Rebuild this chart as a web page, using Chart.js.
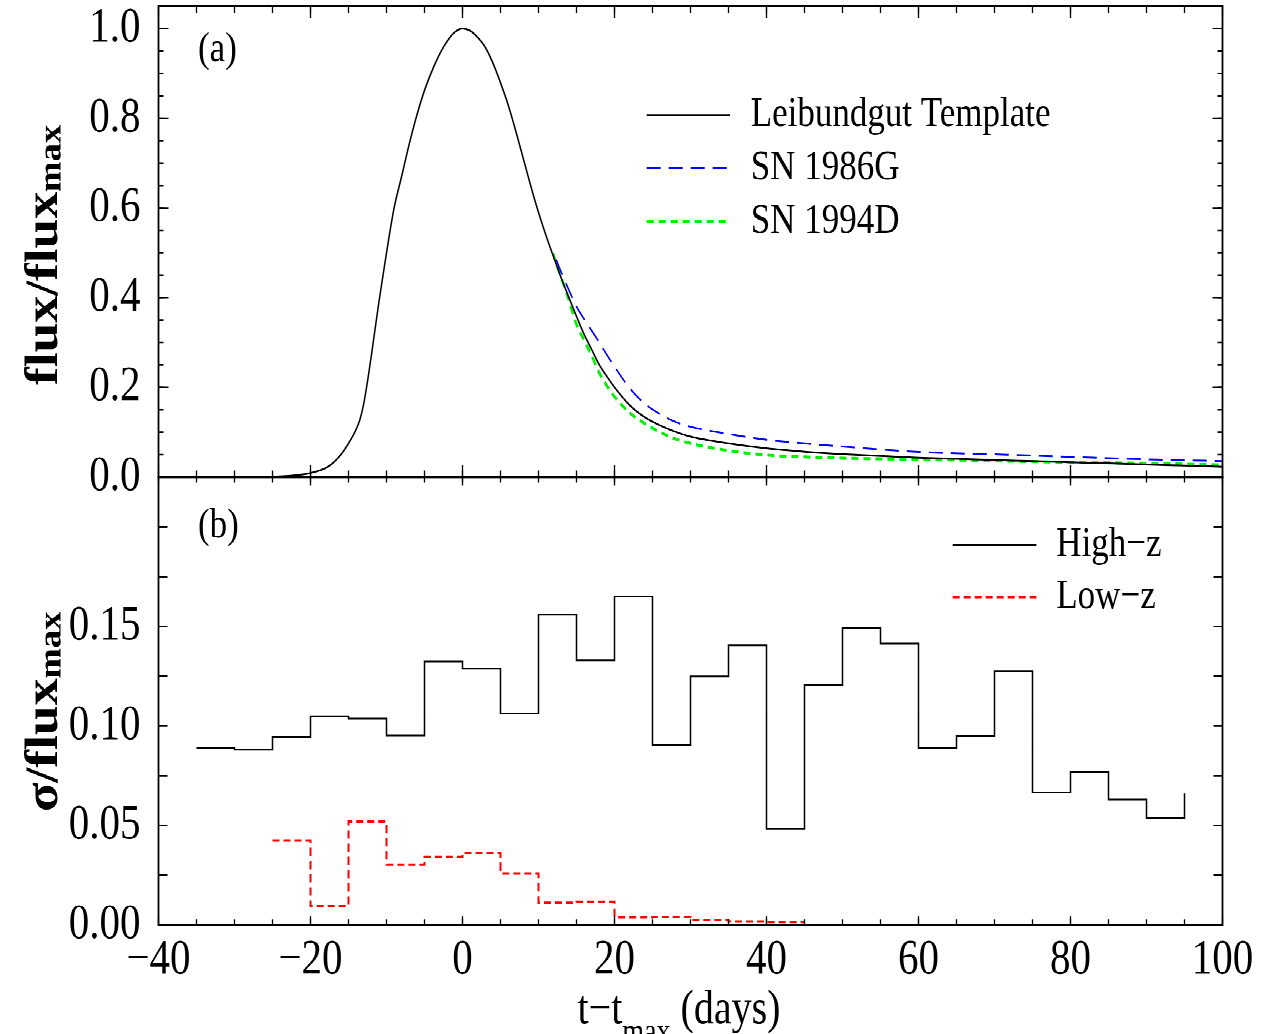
<!DOCTYPE html>
<html>
<head>
<meta charset="utf-8">
<script src="https://cdn.jsdelivr.net/npm/chart.js@4.4.1/dist/chart.umd.min.js"></script>
<style>
html,body{margin:0;padding:0;background:#fff;overflow:hidden;width:1265px;height:1034px}
#wrap{position:absolute;left:0;top:0;width:1265px;height:862px;transform:scaleY(1.19954);transform-origin:0 0}
#wrap canvas{position:absolute;left:0;top:0}
</style>
</head>
<body>
<div id="wrap">
<canvas id="top" width="1265" height="862"></canvas>
<canvas id="bottom" width="1265" height="862"></canvas>
</div>
<script>
// ---------------- data ----------------
const templateDay  = [-30,-25,-22,-20,-18,-17,-16,-15,-14,-13.5,-13,-12.5,-12,-11,-10,-9,-8,-7,-6,-5,-4,-3,-2,-1,0,1,2,3,4,5,6,7,8,9,10,11,12,13,14,15,16,17,18,19,20,22,24,26,28,30,35,40,45,50,55,60,65,70,75,80,85,90,95,100];
const templateFlux = [0,0.001,0.004,0.009,0.02,0.032,0.05,0.075,0.106,0.128,0.163,0.213,0.27,0.39,0.50,0.60,0.671,0.743,0.807,0.862,0.906,0.943,0.972,0.992,1.0,0.995,0.98,0.958,0.923,0.879,0.83,0.772,0.71,0.648,0.59,0.538,0.49,0.443,0.40,0.358,0.318,0.284,0.25,0.224,0.2,0.16,0.133,0.115,0.101,0.09,0.075,0.064,0.0565,0.051,0.047,0.043,0.0405,0.038,0.0355,0.033,0.0305,0.028,0.0255,0.023];

const sn1986gDay  = [12.3,13.7,15,16,17,18,19,20,22,24,26,28,30,35,40,45,50,60,70,80,90,100];
const sn1986gFlux = [0.485,0.428,0.38,0.352,0.326,0.30,0.272,0.246,0.198,0.163,0.14,0.123,0.112,0.096,0.083,0.075,0.068,0.056,0.0507,0.045,0.0395,0.0357];

const sn1994dDay  = [11.9,12.25,13.7,15,16,17,18,19,20,22,24,26,28,30,35,40,45,50,60,70,80,90,100];
const sn1994dFlux = [0.50,0.48,0.41,0.34,0.305,0.27,0.232,0.203,0.179,0.143,0.119,0.1,0.085,0.075,0.059,0.049,0.045,0.042,0.0395,0.036,0.033,0.0306,0.027];

const highZDay   = [-35,-30,-25,-20,-15,-10,-5,0,5,10,15,20,25,30,35,40,45,50,55,60,65,70,75,80,85,90,95];
const highZSigma = [0.0889,0.0881,0.0945,0.1048,0.1037,0.0953,0.1323,0.1288,0.1063,0.1559,0.133,0.165,0.0903,0.1249,0.1405,0.0482,0.1204,0.1492,0.1414,0.0888,0.0948,0.1276,0.0665,0.0767,0.063,0.0536,0.066];

const lowZDay   = [-25,-20,-15,-10,-5,0,5,10,15,20,25,30,35,40,45];
const lowZSigma = [0.0424,0.0094,0.0519,0.0303,0.0342,0.0362,0.0258,0.0111,0.0116,0.0038,0.0040,0.0025,0.0017,0.0015,0.0015];

const seriesLabelsTop    = ['Leibundgut Template','SN 1986G','SN 1994D'];
const seriesLabelsBottom = ['High\u2212z','Low\u2212z'];
const xTickStep = 20, yTopTickStep = 0.2, yBottomTickStep = 0.05;

// ---------------- helpers ----------------
const FONT = '"Liberation Serif", "Times New Roman", serif';
function pts(xs, ys){ return xs.map((x,i)=>({x:x, y:ys[i]})); }
function fmtDay(v){ return String(v).replace('-', '\u2212'); }

function drawParts(ctx, parts, x, y, align){
  let total = 0;
  parts.forEach(p=>{ ctx.font=(p.bold?'bold ':'')+p.size+'px '+FONT; p.w=ctx.measureText(p.t).width; total+=p.w; });
  let cx = align==='center' ? x-total/2 : x;
  ctx.textAlign='left'; ctx.textBaseline='alphabetic'; ctx.fillStyle='#000';
  parts.forEach(p=>{ ctx.font=(p.bold?'bold ':'')+p.size+'px '+FONT; ctx.fillText(p.t, cx, y+(p.dy||0)); cx+=p.w; });
}

const decorPlugin = {
  id:'decor',
  afterDraw(chart, args, o){
    const ctx = chart.ctx, a = chart.chartArea;
    const xs = chart.scales.x, ys = chart.scales.y;
    ctx.save();
    ctx.strokeStyle='#000';
    ctx.lineWidth=1.3;
    // inner ticks on x (top and bottom edges)
    [[o.xMinor,o.xMinorLen],[o.xMajor,o.xMajorLen]].forEach(([step,len])=>{
      for(let i=0;;i++){
        const v = xs.min + i*step; if(v > xs.max+1e-9) break;
        const px = xs.getPixelForValue(v);
        ctx.beginPath();
        ctx.moveTo(px,a.bottom); ctx.lineTo(px,a.bottom-len);
        ctx.moveTo(px,a.top); ctx.lineTo(px,a.top+len);
        ctx.stroke();
      }
    });
    // inner ticks on y (left and right edges)
    [[o.yMinor,o.yMinorLen],[o.yMajor,o.yMajorLen]].forEach(([step,len])=>{
      for(let i=0;;i++){
        const v = ys.min + i*step; if(v > ys.max+1e-9) break;
        const py = ys.getPixelForValue(v);
        ctx.beginPath();
        ctx.moveTo(a.left,py); ctx.lineTo(a.left+len,py);
        ctx.moveTo(a.right,py); ctx.lineTo(a.right-len,py);
        ctx.stroke();
      }
    });
    // frame
    ctx.lineWidth=1.8;
    ctx.strokeRect(a.left,a.top,a.right-a.left,a.bottom-a.top);

    // legend
    const L = o.legend;
    chart.data.datasets.forEach((ds,i)=>{
      const y = L.rows[i];
      ctx.save();
      ctx.strokeStyle = ds.borderColor; ctx.lineWidth = ds.borderWidth;
      ctx.setLineDash(ds.borderDash||[]);
      ctx.beginPath(); ctx.moveTo(L.x1,y); ctx.lineTo(L.x2,y); ctx.stroke();
      ctx.restore();
      ctx.fillStyle='#000'; ctx.font=L.size+'px '+FONT; ctx.textAlign='left'; ctx.textBaseline='middle';
      ctx.fillText(ds.label, L.tx, y);
    });
    // panel tag
    ctx.fillStyle='#000'; ctx.font=o.tag.size+'px '+FONT; ctx.textAlign='left'; ctx.textBaseline='middle';
    ctx.fillText(o.tag.text, o.tag.x, o.tag.y);

    // y title (rotated)
    ctx.save();
    ctx.translate(o.yTitle.x, o.yTitle.y);
    ctx.rotate(-Math.PI/2);
    ctx.scale(o.yTitle.sx, 1);
    drawParts(ctx, o.yTitle.parts, 0, 0, 'center');
    ctx.restore();

    // x title
    if(o.xTitle){ drawParts(ctx, o.xTitle.parts, o.xTitle.x, o.xTitle.y, 'center'); }
    ctx.restore();
  }
};

function fixBox(w,h){
  return function(s){
    if(w!==null) s.width=w;
    if(h!==null) s.height=h;
    s.paddingLeft=0; s.paddingRight=0; s.paddingTop=0; s.paddingBottom=0;
  };
}

function xScaleCfg(display, height){
  return {
    type:'linear', min:-40, max:100, display:display,
    grid:{display:false, drawTicks:false}, border:{display:false},
    ticks:{stepSize:xTickStep, autoSkip:false, maxRotation:0, minRotation:0, padding:5, color:'#000',
           font:{family:FONT, size:41}, callback:(v)=>fmtDay(v)},
    afterFit: fixBox(null, height)
  };
}

const common = {
  responsive:false, animation:false, devicePixelRatio:2,
  events:[],
  elements:{point:{radius:0}, line:{fill:false}}
};

// ---------------- top panel ----------------
new Chart(document.getElementById('top'), {
  type:'line',
  data:{datasets:[
    {label:seriesLabelsTop[0], data:pts(templateDay,templateFlux), borderColor:'#000000', borderWidth:1.5, pointRadius:0, cubicInterpolationMode:'monotone'},
    {label:seriesLabelsTop[1], data:pts(sn1986gDay,sn1986gFlux), borderColor:'#0000ff', borderWidth:1.5, borderDash:[14,8], pointRadius:0, cubicInterpolationMode:'monotone'},
    {label:seriesLabelsTop[2], data:pts(sn1994dDay,sn1994dFlux), borderColor:'#00f000', borderWidth:2.5, borderDash:[7,5], pointRadius:0, cubicInterpolationMode:'monotone'}
  ]},
  options:Object.assign({}, common, {
    layout:{padding:{left:0, right:42.5, top:5, bottom:464.3}},
    scales:{
      x: xScaleCfg(false, 0),
      y:{type:'linear', min:0, max:1.05,
         grid:{display:false, drawTicks:false}, border:{display:false},
         ticks:{stepSize:yTopTickStep, includeBounds:false, autoSkip:false, padding:18, color:'#000',
                font:{family:FONT, size:41}, callback:(v)=>v.toFixed(1)},
         afterFit: fixBox(158.5, null)}
    },
    plugins:{
      legend:{display:false}, tooltip:{enabled:false},
      decor:{
        xMajor:20, xMinor:5, xMajorLen:10, xMinorLen:5.5,
        yMajor:0.2, yMinor:0.05, yMajorLen:10, yMinorLen:5,
        legend:{x1:646.7, x2:730, tx:750.7, rows:[95.9,140.3,184.8], size:35},
        tag:{text:'(a)', x:198, y:41.7, size:35},
        yTitle:{x:57, y:212.6, sx:0.95, parts:[{t:'flux/flux', size:47, bold:true},{t:'max', size:32, bold:true, dy:3.5}]}
      }
    }
  }),
  plugins:[decorPlugin]
});

// ---------------- bottom panel ----------------
new Chart(document.getElementById('bottom'), {
  type:'line',
  data:{datasets:[
    {label:seriesLabelsBottom[0], data:pts(highZDay,highZSigma), stepped:'before', borderColor:'#000000', borderWidth:1.5, pointRadius:0},
    {label:seriesLabelsBottom[1], data:pts(lowZDay,lowZSigma), stepped:'before', borderColor:'#ff0000', borderWidth:2, borderDash:[7,4], pointRadius:0}
  ]},
  options:Object.assign({}, common, {
    layout:{padding:{left:0, right:42.5, top:397.7, bottom:0}},
    scales:{
      x: xScaleCfg(true, 90.9),
      y:{type:'linear', min:0, max:0.225,
         grid:{display:false, drawTicks:false}, border:{display:false},
         ticks:{stepSize:yBottomTickStep, includeBounds:false, autoSkip:false, padding:18, color:'#000',
                font:{family:FONT, size:41}, callback:(v)=> Math.abs(v-0.2)<1e-9 ? '' : v.toFixed(2)},
         afterFit: fixBox(158.5, null)}
    },
    plugins:{
      legend:{display:false}, tooltip:{enabled:false},
      decor:{
        xMajor:20, xMinor:5, xMajorLen:7, xMinorLen:4.5,
        yMajor:0.025, yMinor:0.025, yMajorLen:9, yMinorLen:9,
        legend:{x1:952.7, x2:1036.4, tx:1056.3, rows:[454.3,497.7], size:35},
        tag:{text:'(b)', x:198, y:438.6, size:35},
        yTitle:{x:57, y:593.3, sx:0.95, parts:[{t:'\u03c3/flux', size:47, bold:true},{t:'max', size:32, bold:true, dy:3.5}]},
        xTitle:{x:679, y:853.1, parts:[{t:'t\u2212t', size:40},{t:'max', size:28, dy:15.6},{t:' (days)', size:40}]}
      }
    }
  }),
  plugins:[decorPlugin]
});
</script>
</body>
</html>
